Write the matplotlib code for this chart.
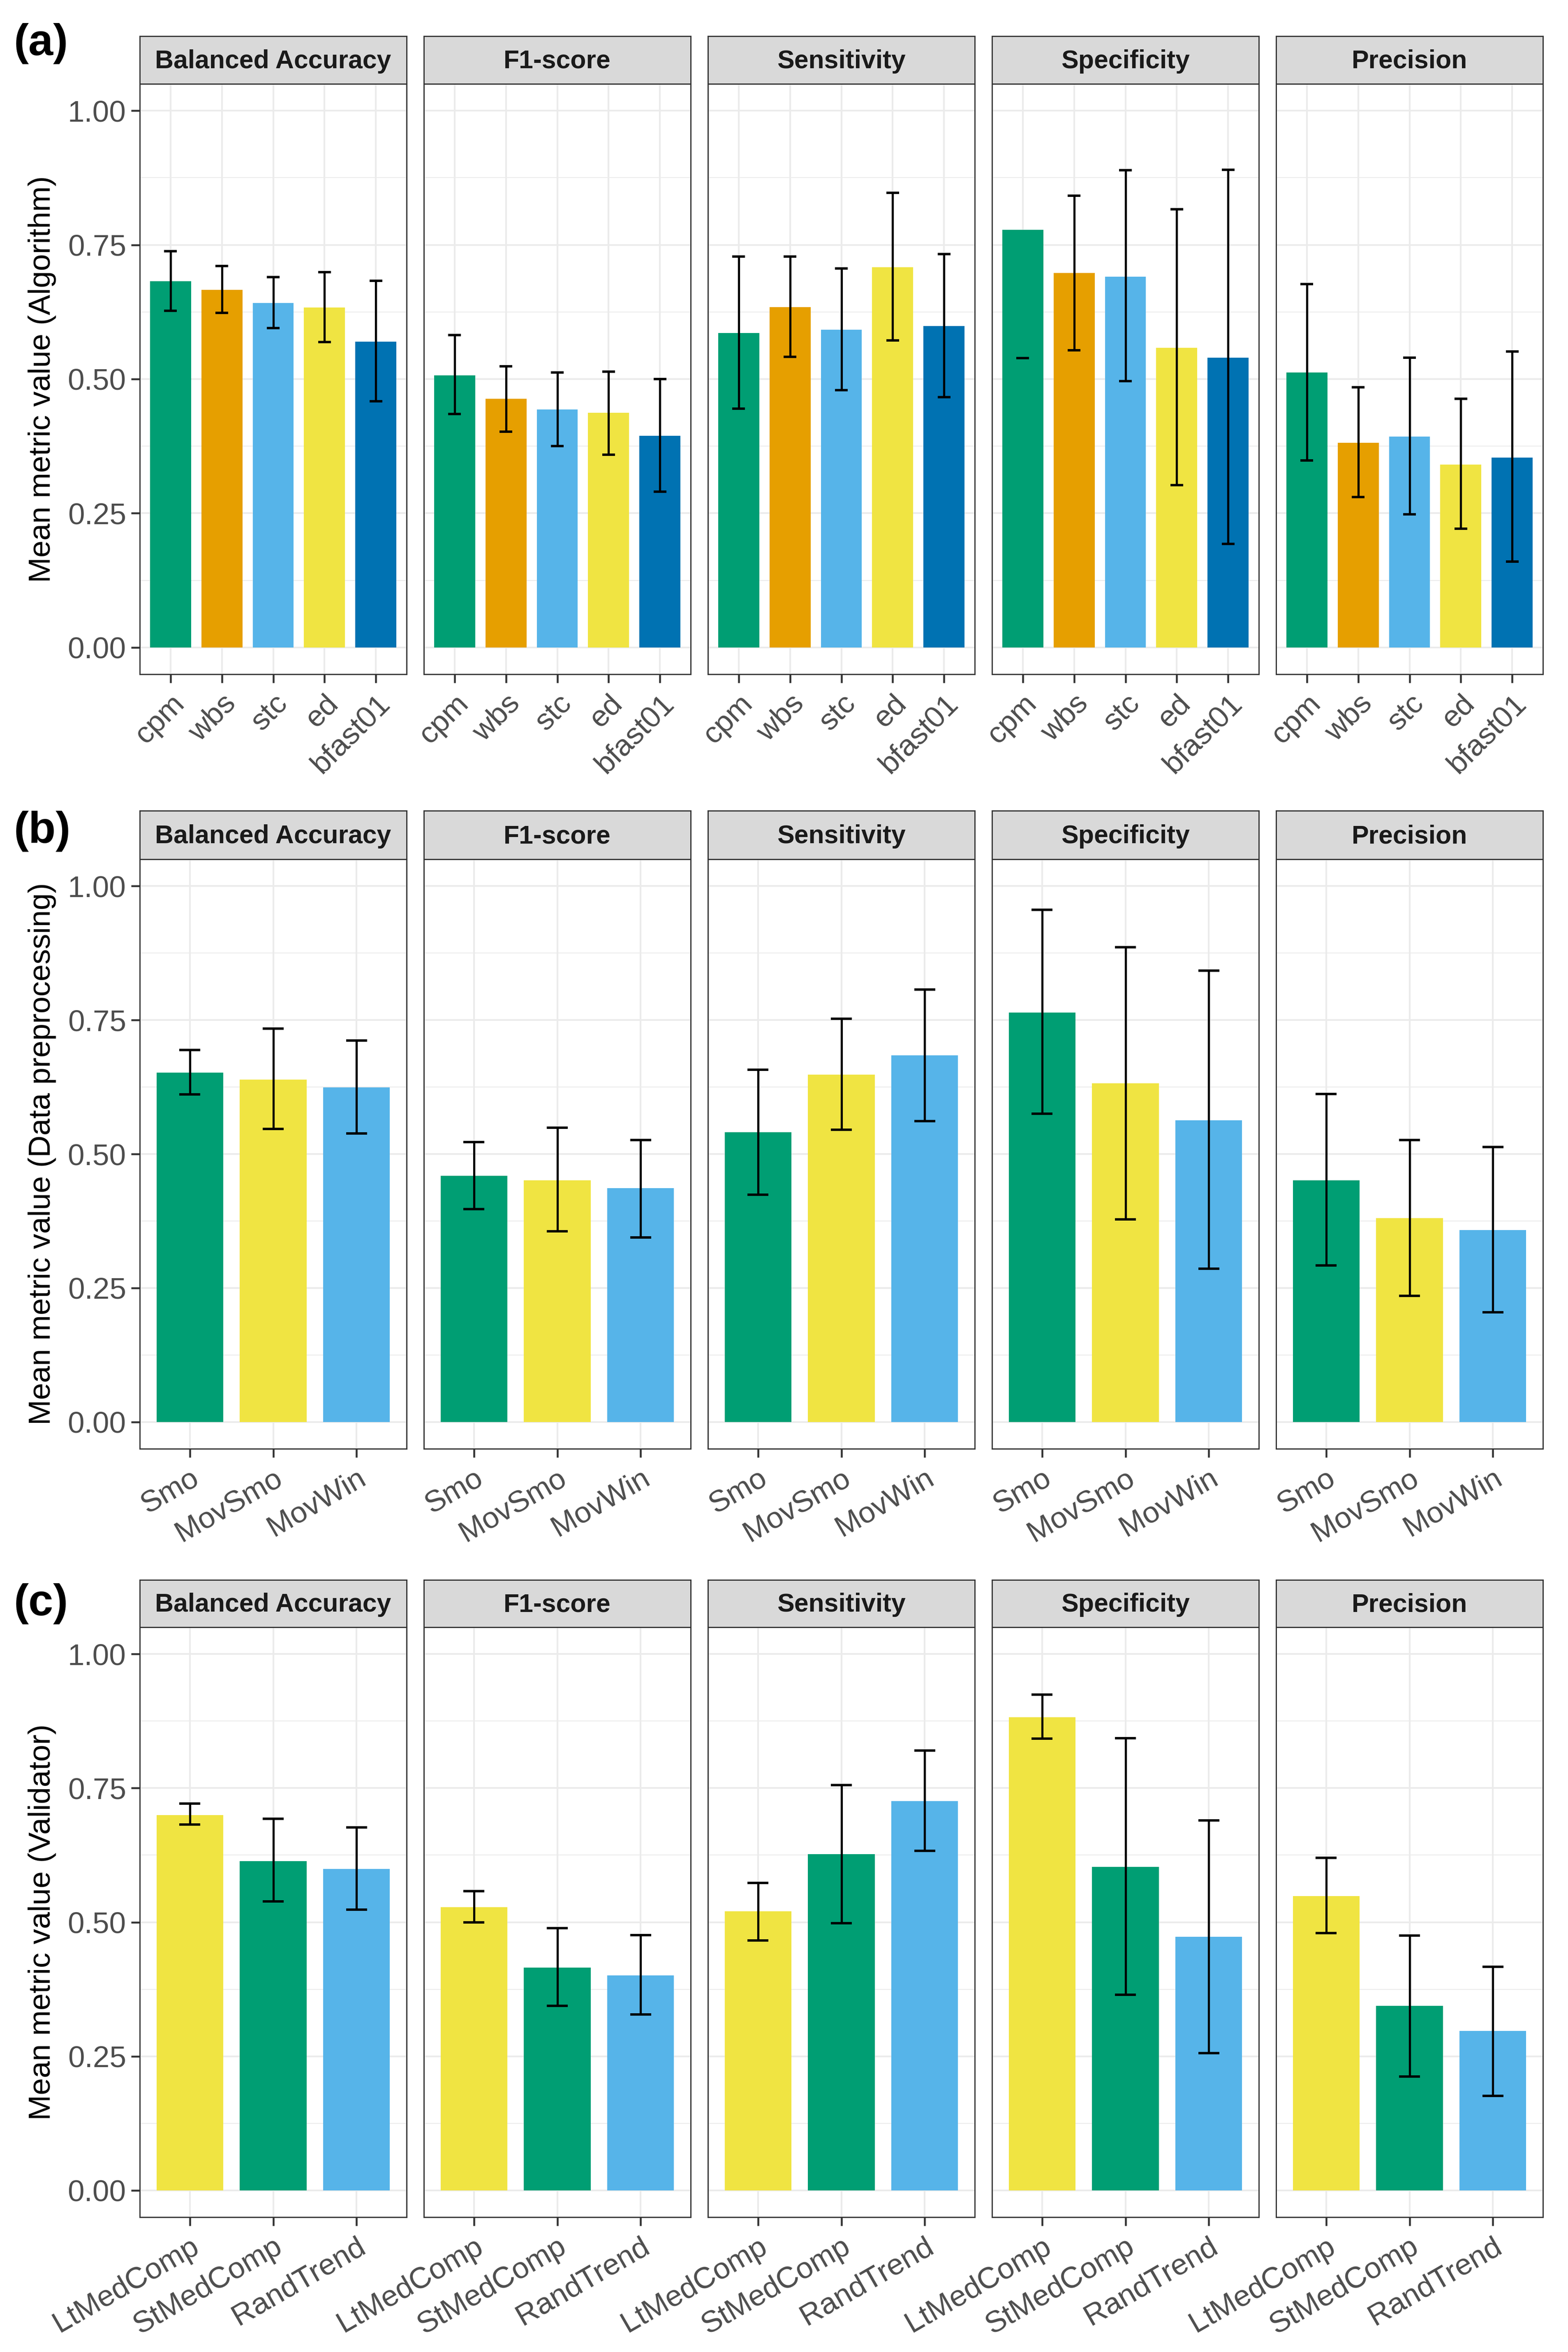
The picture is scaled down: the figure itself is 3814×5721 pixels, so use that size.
import numpy as np
import matplotlib
matplotlib.use("Agg")
import matplotlib.pyplot as plt

plt.rcParams['font.family'] = ['Liberation Sans', 'DejaVu Sans']

W, H = 3814, 5721
DPI = 300

metrics = ["Balanced Accuracy", "F1-score", "Sensitivity", "Specificity", "Precision"]

# (a) algorithms
alg_names = ["cpm", "wbs", "stc", "ed", "bfast01"]
alg_colors = ["#009E73", "#E69F00", "#56B4E9", "#F0E442", "#0072B2"]
alg_mean = [
    [0.682, 0.666, 0.642, 0.633, 0.570],
    [0.507, 0.463, 0.443, 0.437, 0.394],
    [0.586, 0.634, 0.592, 0.708, 0.599],
    [0.778, 0.698, 0.691, 0.558, 0.540],
    [0.512, 0.381, 0.393, 0.341, 0.354],
]
alg_low = [
    [0.627, 0.623, 0.595, 0.569, 0.459],
    [0.435, 0.402, 0.375, 0.359, 0.290],
    [0.445, 0.541, 0.479, 0.572, 0.466],
    [0.539, 0.554, 0.496, 0.302, 0.193],
    [0.348, 0.280, 0.248, 0.221, 0.160],
]
alg_high = [
    [0.738, 0.711, 0.690, 0.699, 0.683],
    [0.582, 0.524, 0.512, 0.514, 0.500],
    [0.728, 0.728, 0.706, 0.847, 0.733],
    [np.nan, 0.842, 0.889, 0.816, 0.890],
    [0.677, 0.485, 0.540, 0.463, 0.551],
]

# (b) data preprocessing
pre_names = ["Smo", "MovSmo", "MovWin"]
pre_colors = ["#009E73", "#F0E442", "#56B4E9"]
pre_mean = [
    [0.652, 0.639, 0.624],
    [0.459, 0.451, 0.436],
    [0.541, 0.648, 0.684],
    [0.764, 0.632, 0.563],
    [0.451, 0.380, 0.358],
]
pre_low = [
    [0.611, 0.547, 0.538],
    [0.397, 0.356, 0.344],
    [0.424, 0.545, 0.561],
    [0.575, 0.378, 0.286],
    [0.292, 0.235, 0.205],
]
pre_high = [
    [0.694, 0.734, 0.712],
    [0.522, 0.549, 0.526],
    [0.657, 0.752, 0.807],
    [0.956, 0.886, 0.842],
    [0.612, 0.526, 0.513],
]

# (c) validator
val_names = ["LtMedComp", "StMedComp", "RandTrend"]
val_colors = ["#F0E442", "#009E73", "#56B4E9"]
val_mean = [
    [0.700, 0.614, 0.599],
    [0.528, 0.415, 0.401],
    [0.520, 0.627, 0.726],
    [0.882, 0.603, 0.473],
    [0.549, 0.344, 0.297],
]
val_low = [
    [0.682, 0.539, 0.523],
    [0.500, 0.344, 0.328],
    [0.466, 0.498, 0.633],
    [0.842, 0.365, 0.256],
    [0.480, 0.212, 0.176],
]
val_high = [
    [0.721, 0.693, 0.677],
    [0.558, 0.489, 0.476],
    [0.573, 0.756, 0.820],
    [0.924, 0.843, 0.690],
    [0.620, 0.475, 0.417],
]

fig = plt.figure(figsize=(W / DPI, H / DPI), dpi=DPI)

col_left = [340, 1031, 1722, 2413, 3104]
col_w = 649
dark = "#333333"
tick_col = "#4D4D4D"


def px_rect(x0, y_top, w, h):
    return [x0 / W, 1 - (y_top + h) / H, w / W, h / H]


def draw_row(names, colors, means, lows, highs, strip_top, panel_top, panel_bot,
             ylabel, tag, tag_base, rot):
    n = len(names)
    xs = np.arange(n)
    for j, metric in enumerate(metrics):
        ax = fig.add_axes(px_rect(col_left[j], panel_top, col_w, panel_bot - panel_top))
        ax.set_axisbelow(True)
        ax.bar(xs, means[j], width=0.8, color=colors, zorder=2)
        lo = np.array(lows[j])
        hi = np.array(highs[j])
        ok = ~np.isnan(hi)
        ax.vlines(xs[ok], lo[ok], hi[ok], color="black", lw=1.25, zorder=3)
        ax.hlines(lo, xs - 0.125, xs + 0.125, color="black", lw=1.4, zorder=3)
        ax.hlines(hi[ok], xs[ok] - 0.125, xs[ok] + 0.125, color="black", lw=1.4, zorder=3)
        ax.set_xlim(-0.6, n - 0.4)
        ax.set_ylim(-0.05, 1.05)
        ax.set_yticks([0, 0.25, 0.5, 0.75, 1.0])
        ax.set_yticks([0.125, 0.375, 0.625, 0.875], minor=True)
        ax.grid(which="major", color="#EBEBEB", lw=1.0)
        ax.grid(which="minor", axis="y", color="#EBEBEB", lw=0.5)
        ax.tick_params(which="minor", left=False)
        ax.set_xticks(xs)
        ax.set_xticklabels(names, rotation=rot, rotation_mode="anchor",
                           ha="right", va="top", fontsize=17.5, color=tick_col)
        ax.tick_params(axis="x", length=5, width=1.1, color=dark, pad=4)
        if j == 0:
            ax.set_yticklabels(["0.00", "0.25", "0.50", "0.75", "1.00"],
                               fontsize=17.5, color=tick_col)
            ax.tick_params(axis="y", which="major", length=5, width=1.1, color=dark, pad=3)
        else:
            ax.tick_params(axis="y", which="both", left=False, labelleft=False)
        for s in ax.spines.values():
            s.set_color(dark)
            s.set_linewidth(0.7)
        # strip
        sax = fig.add_axes(px_rect(col_left[j], strip_top, col_w, panel_top - strip_top))
        sax.set_facecolor("#D9D9D9")
        sax.set_xticks([])
        sax.set_yticks([])
        for s in sax.spines.values():
            s.set_color(dark)
            s.set_linewidth(0.7)
        sax.text(0.5, 0.47, metric, ha="center", va="center", fontsize=15,
                 fontweight="bold", color="#1A1A1A", transform=sax.transAxes)
    fig.text(103 / W, 1 - (panel_top + panel_bot) / 2 / H, ylabel, rotation=90,
             ha="center", va="center", fontsize=17.8, color="black")
    fig.text(34 / W, 1 - tag_base / H, tag, ha="left", va="baseline",
             fontsize=26, fontweight="bold")


draw_row(alg_names, alg_colors, alg_mean, alg_low, alg_high,
         88, 204, 1640, "Mean metric value (Algorithm)", "(a)", 134, 45)
draw_row(pre_names, pre_colors, pre_mean, pre_low, pre_high,
         1972, 2090, 3524, "Mean metric value (Data preprocessing)", "(b)", 2050, 30)
draw_row(val_names, val_colors, val_mean, val_low, val_high,
         3843, 3958, 5393, "Mean metric value (Validator)", "(c)", 3929, 30)

fig.savefig("out.png", dpi=DPI, facecolor="white")
